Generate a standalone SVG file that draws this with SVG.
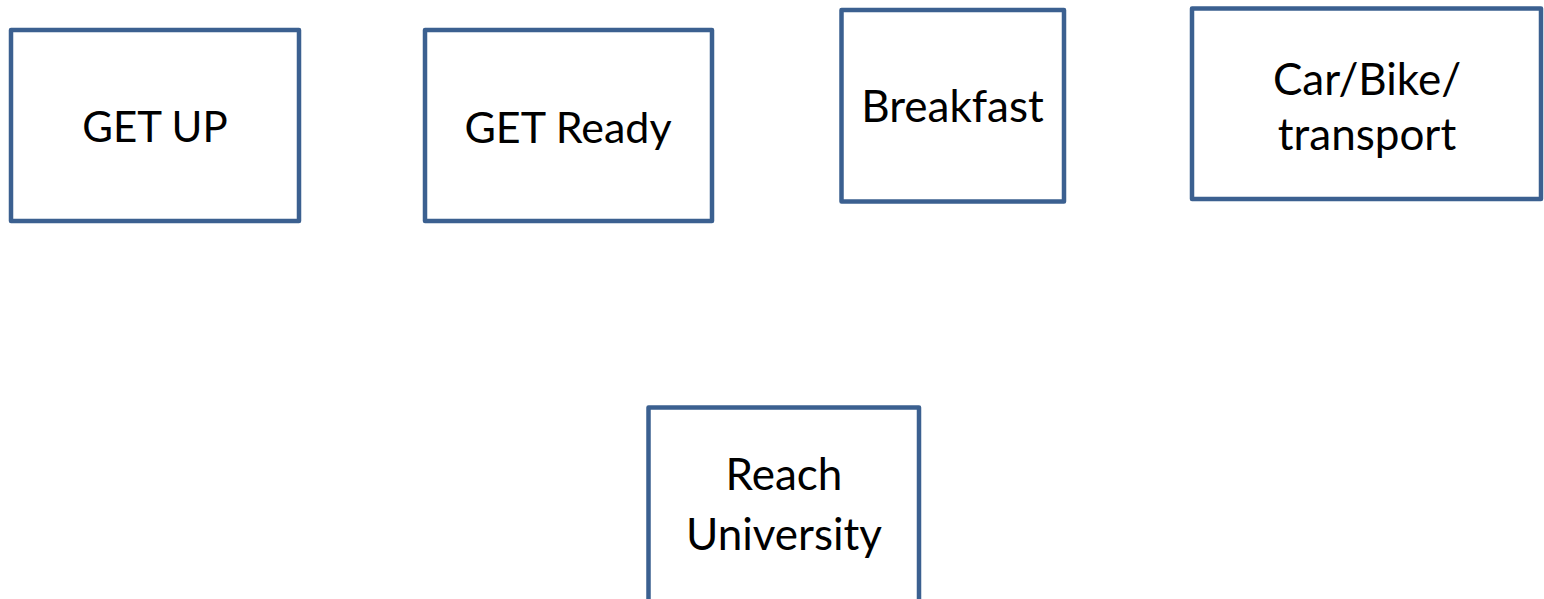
<svg xmlns="http://www.w3.org/2000/svg" width="1544" height="599" viewBox="0 0 1544 599">
<style>
.box{fill:#ffffff;stroke:#3b6090;stroke-width:4.5;stroke-linejoin:round}
.lbl{font-family:Lato,"Open Sans","Liberation Sans",sans-serif;font-size:44px;fill:#000;text-anchor:middle}
</style>
<rect width="1544" height="599" fill="#ffffff"/>
<g id="connectors"></g>
<g id="getup">
<rect class="box" x="11" y="30" width="288" height="191"/>
<text class="lbl" x="155" y="142" style="font-size:42px">GET UP</text>
</g>
<g id="getready">
<rect class="box" x="425" y="30" width="287" height="191"/>
<text class="lbl" x="568" y="143" style="font-size:43px">GET Ready</text>
</g>
<g id="breakfast">
<rect class="box" x="841.5" y="10" width="222.5" height="191.5"/>
<text class="lbl" x="952.5" y="122">Breakfast</text>
</g>
<g id="transport">
<rect class="box" x="1192" y="8.5" width="349" height="190.5"/>
<text class="lbl" x="1367" y="95">Car/Bike/</text>
<text class="lbl" x="1367" y="150">transport</text>
</g>
<g id="university">
<rect class="box" x="648.5" y="407.5" width="270.5" height="200"/>
<text class="lbl" x="784" y="490">Reach</text>
<text class="lbl" x="784" y="550">University</text>
</g>
</svg>
